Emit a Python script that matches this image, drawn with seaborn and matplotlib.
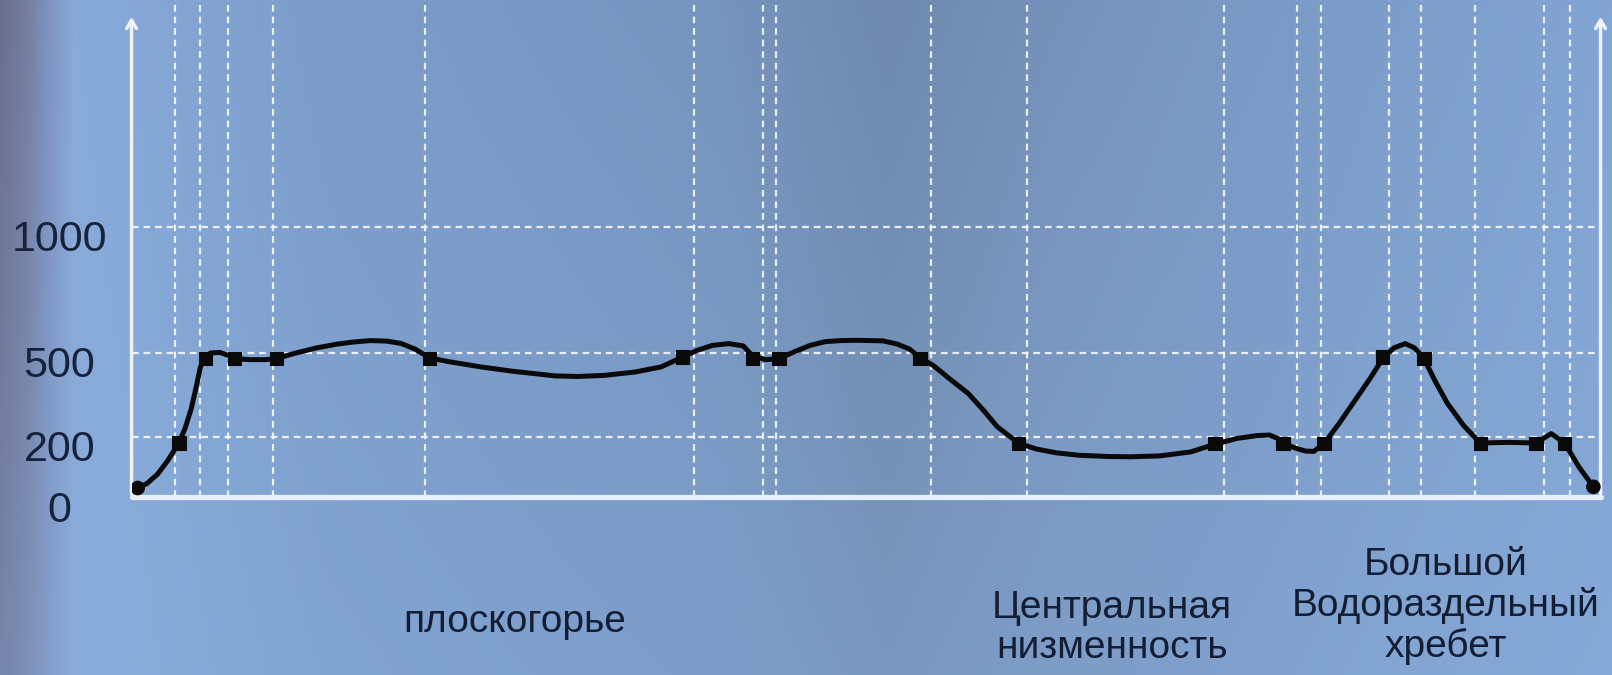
import numpy as np
import pandas as pd
import matplotlib
matplotlib.use("Agg")
import matplotlib.pyplot as plt
import matplotlib.transforms as mtransforms
import seaborn as sns

# Profile of the terrain (distance along the section, height in m)
profile_x = [6, 15, 25, 35, 46, 52, 58, 63, 67, 72, 77, 86, 95, 100, 115, 130, 141,
             160, 180, 200, 215, 232, 248, 262, 276, 290, 310, 340, 370, 395, 412,
             435, 460, 490, 515, 536, 550, 565, 581, 595, 604, 617, 630, 645, 660,
             675, 690, 705, 731, 745, 757, 767, 780, 795, 814, 830, 842, 863, 880,
             900, 922, 950, 972, 1000, 1030, 1054, 1075, 1095, 1107, 1115, 1120,
             1132, 1142, 1150, 1160, 1175, 1190, 1205, 1217, 1228, 1239, 1248,
             1257, 1268, 1280, 1296, 1312, 1340, 1366, 1381, 1394, 1408, 1422]
profile_h = [30, 45, 75, 120, 180, 230, 300, 380, 450, 485, 500, 502, 490, 480, 476,
             476, 480, 500, 520, 535, 543, 549, 547, 538, 515, 482, 468, 450, 435,
             425, 418, 416, 420, 432, 450, 485, 510, 530, 537, 528, 490, 476, 480,
             505, 530, 545, 549, 550, 548, 535, 515, 482, 455, 410, 355, 290, 237,
             179, 160, 147, 139, 135, 134, 137, 150, 176, 195, 205, 207, 195, 180,
             163, 153, 152, 178, 250, 330, 410, 480, 520, 537, 520, 482, 400, 320,
             240, 180, 182, 180, 212, 180, 100, 34]

# Marked points
point_x = [6, 46, 72, 100, 141, 290, 536, 604, 630, 767, 863, 1054, 1120, 1160,
           1217, 1257, 1312, 1366, 1394, 1422]
point_h = [30, 180, 480, 480, 480, 480, 485, 480, 480, 480, 179, 179, 179, 179,
           485, 480, 179, 179, 179, 34]
point_shape = ["o"] + ["s"] * 18 + ["o"]

# Vertical grid positions and height ticks
grid_x = [42, 67, 94, 138, 285, 547, 614, 627, 778, 871, 1063, 1134, 1157, 1223,
          1254, 1307, 1374, 1399]
y_ticks = [0, 200, 500, 1000]

regions = ["плоскогорье", "Центральная\nнизменность", "Большой\nВодораздельный\nхребет"]

sns.set_style("white")
plt.rcParams["font.family"] = ["Liberation Sans", "DejaVu Sans"]

fig = plt.figure(figsize=(16.12, 6.75), dpi=100)

# background gradient
def hex_rgb(h):
    h = h.lstrip("#")
    return [int(h[i:i + 2], 16) / 255 for i in (0, 2, 4)]

stops = [0, 0.015, 0.03, 0.045, 0.08, 0.2, 0.45, 0.55, 0.65, 0.85, 1.0]
stop_cols = ["#6b6f8e", "#747d9f", "#7f95c2", "#88aad9", "#86a8d6", "#7c9dca",
             "#7594be", "#6e89ad", "#7592ba", "#7d9ecb", "#82a4d2"]
W, H = 400, 170
gx = np.linspace(0, 1, W)
rgb = np.array([hex_rgb(c) for c in stop_cols])
row = np.stack([np.interp(gx, stops, rgb[:, k]) for k in range(3)], axis=-1)
light = np.array(hex_rgb("#8db1df"))
t = np.linspace(0, 1, H)[:, None, None] * 0.35
bg_img = row[None, :, :] * (1 - t) + light[None, None, :] * t
bg = fig.add_axes([0, 0, 1, 1], zorder=-10)
bg.imshow(bg_img, aspect="auto", extent=[0, 1, 0, 1], interpolation="bilinear")
bg.axis("off")

ax = fig.add_axes([0.0816, 0.2637, 0.9113, 0.7363])
ax.set_facecolor("none")

# uneven vertical scale, as drawn in the original
brk_v = [0, 200, 500, 1000, 2000]
brk_p = [0, 60, 144, 270, 522]
ax.set_yscale("function", functions=(lambda v: np.interp(v, brk_v, brk_p),
                                     lambda p: np.interp(p, brk_p, brk_v)))

df_line = pd.DataFrame({"x": profile_x, "h": profile_h})
df_pts = pd.DataFrame({"x": point_x, "h": point_h, "shape": point_shape})

sns.lineplot(data=df_line, x="x", y="h", ax=ax, color="#0a0a0a", lw=3.6,
             sort=False, zorder=5, solid_joinstyle="round", solid_capstyle="round")
sns.scatterplot(data=df_pts, x="x", y="h", style="shape", markers={"o": "o", "s": "s"},
                ax=ax, color="#0a0a0a", s=95, edgecolor="#0a0a0a", legend=False, zorder=6)

ax.set_xlim(0, 1429)
ax.set_ylim(0, 1900)
ax.set_xticks(grid_x)
ax.set_xticklabels([])
ax.set_yticks(y_ticks)
ax.set_yticklabels([str(v) for v in y_ticks])
ax.tick_params(axis="both", length=0)
ax.tick_params(axis="y", pad=52, labelsize=31, labelcolor="#17233a")
for lab in ax.get_yticklabels():
    lab.set_horizontalalignment("center")
    lab.set_transform(lab.get_transform() +
                      mtransforms.ScaledTranslation(0, -0.09, fig.dpi_scale_trans))
ax.grid(True, color="white", lw=1.6, ls=(0, (3, 2.2)), alpha=0.85)
ax.set_xlabel("")
ax.set_ylabel("")
for sp in ax.spines.values():
    sp.set_visible(False)

# axes lines with open arrows
ax.axhline(0, color="#e8f0ff", lw=3.8, clip_on=False, zorder=4)
for xa in (0, 1):
    ax.annotate("", xy=(xa, 0.972), xytext=(xa, 0), xycoords="axes fraction",
                arrowprops=dict(arrowstyle="->,head_length=0.6,head_width=0.35",
                                color="#eef4ff", lw=2.5), zorder=4)

label_font = dict(fontsize=28, color="#131d33", ha="center", va="center",
                  linespacing=1.14)
fig.text(0.319, 0.079, regions[0], **label_font)
fig.text(0.690, 0.069, regions[1], **label_font)
fig.text(0.897, 0.102, regions[2], **label_font)

fig.savefig("out.png", dpi=100)
